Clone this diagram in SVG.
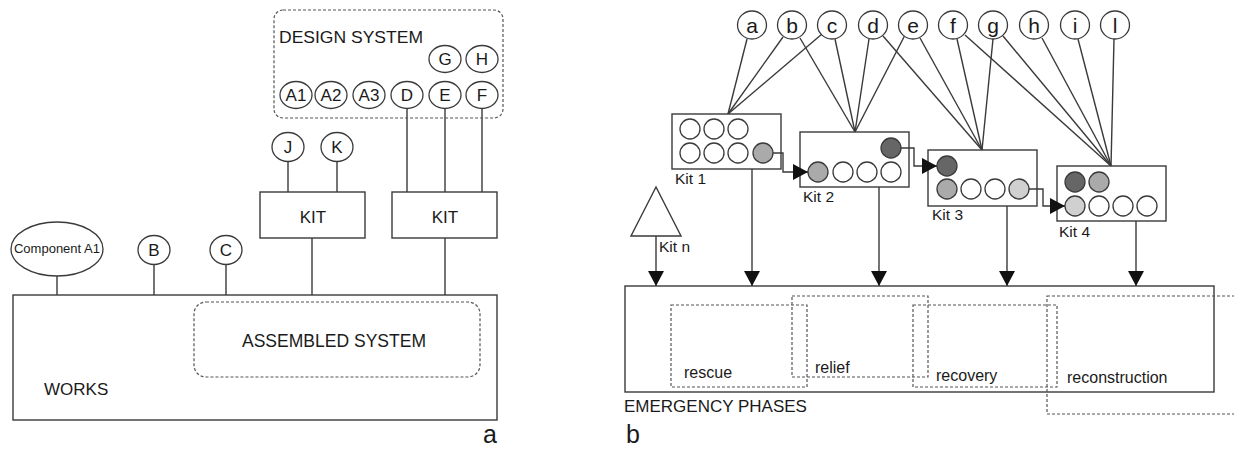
<svg xmlns="http://www.w3.org/2000/svg" width="1234" height="450" viewBox="0 0 1234 450">
<style>
text{font-family:"Liberation Sans",Arial,sans-serif;fill:#1a1a1a}
.ln{stroke:#3a3a3a;stroke-width:1.4;fill:none}
.bx{stroke:#3a3a3a;stroke-width:1.4;fill:#fff}
.ds{stroke:#555;stroke-width:1.2;fill:none;stroke-dasharray:3 2}
.c{stroke:#3a3a3a;stroke-width:1.3;fill:#fff}
.g{stroke:#3a3a3a;stroke-width:1.3;fill:#aaa}
.dk{stroke:#3a3a3a;stroke-width:1.3;fill:#666}
.lt{stroke:#3a3a3a;stroke-width:1.3;fill:#d0d0d0}
.cl{font-size:17px;text-anchor:middle}
.rl{font-size:21px;text-anchor:middle}
.lb{font-size:17px}
.kl{font-size:15.5px}
.ph{font-size:16px}
</style>
<defs>
<marker id="ah" markerUnits="userSpaceOnUse" markerWidth="16" markerHeight="16" refX="15" refY="8" orient="auto">
<path d="M0,0 L15,8 L0,16 z" fill="#111"/>
</marker>
</defs>

<!-- ===== Panel a ===== -->
<g id="connectors-a">
<line class="ln" x1="57" y1="276" x2="57" y2="295"/>
<line class="ln" x1="154" y1="265" x2="154" y2="295"/>
<line class="ln" x1="226" y1="265" x2="226" y2="295"/>
<line class="ln" x1="312" y1="238" x2="312" y2="295"/>
<line class="ln" x1="445" y1="238" x2="445" y2="295"/>
<line class="ln" x1="288" y1="161" x2="288" y2="192"/>
<line class="ln" x1="337" y1="161" x2="337" y2="192"/>
<line class="ln" x1="407" y1="108.5" x2="407" y2="192"/>
<line class="ln" x1="445" y1="108.5" x2="445" y2="192"/>
<line class="ln" x1="482" y1="108.5" x2="482" y2="192"/>
</g>

<g id="design-system">
<rect class="ds" x="274" y="10" width="229" height="108" rx="9"/>
<text class="lb" x="279" y="43" textLength="144" lengthAdjust="spacingAndGlyphs">DESIGN SYSTEM</text>
</g>
<g id="node-A1"><ellipse class="c" cx="296" cy="95" rx="16" ry="13.5"/><text class="cl" x="296" y="101">A1</text></g>
<g id="node-A2"><ellipse class="c" cx="331" cy="95" rx="16" ry="13.5"/><text class="cl" x="331" y="101">A2</text></g>
<g id="node-A3"><ellipse class="c" cx="369" cy="95" rx="16" ry="13.5"/><text class="cl" x="369" y="101">A3</text></g>
<g id="node-D"><ellipse class="c" cx="407" cy="95" rx="16" ry="13.5"/><text class="cl" x="407" y="101">D</text></g>
<g id="node-E"><ellipse class="c" cx="445" cy="95" rx="16" ry="13.5"/><text class="cl" x="445" y="101">E</text></g>
<g id="node-F"><ellipse class="c" cx="482" cy="95" rx="16" ry="13.5"/><text class="cl" x="482" y="101">F</text></g>
<g id="node-G"><ellipse class="c" cx="445" cy="59" rx="16" ry="13.5"/><text class="cl" x="445" y="65">G</text></g>
<g id="node-H"><ellipse class="c" cx="482" cy="59" rx="16" ry="13.5"/><text class="cl" x="482" y="65">H</text></g>
<g id="node-J"><ellipse class="c" cx="288" cy="147" rx="16" ry="14.5"/><text class="cl" x="288" y="153">J</text></g>
<g id="node-K"><ellipse class="c" cx="337" cy="147" rx="16" ry="14.5"/><text class="cl" x="337" y="153">K</text></g>
<g id="kit-a1"><rect class="bx" x="260" y="192" width="105" height="46"/><text class="lb" x="313" y="223" text-anchor="middle">KIT</text></g>
<g id="kit-a2"><rect class="bx" x="392" y="192" width="105" height="46"/><text class="lb" x="445" y="223" text-anchor="middle">KIT</text></g>
<g id="node-componentA1"><ellipse class="c" cx="57" cy="249" rx="46" ry="27"/><text x="57" y="253" font-size="13" text-anchor="middle">Component A1</text></g>
<g id="node-B"><ellipse class="c" cx="154" cy="250" rx="16" ry="14.5"/><text class="cl" x="154" y="256">B</text></g>
<g id="node-C"><ellipse class="c" cx="226" cy="250" rx="16" ry="14.5"/><text class="cl" x="226" y="256">C</text></g>
<g id="works">
<rect class="bx" x="13" y="295" width="484" height="125"/>
<text class="lb" x="44" y="395">WORKS</text>
</g>
<g id="assembled-system">
<rect class="ds" x="194" y="302" width="286" height="75" rx="12"/>
<text x="242" y="347" font-size="17.5" textLength="184" lengthAdjust="spacingAndGlyphs">ASSEMBLED SYSTEM</text>
</g>
<text x="483" y="443" font-size="25">a</text>

<!-- ===== Panel b ===== -->
<g id="connectors-b">
<line class="ln" x1="747" y1="39" x2="728" y2="114"/>
<line class="ln" x1="783" y1="37" x2="728" y2="114"/>
<line class="ln" x1="822" y1="34" x2="728" y2="114"/>
<line class="ln" x1="800" y1="38" x2="855" y2="132"/>
<line class="ln" x1="835" y1="39" x2="855" y2="132"/>
<line class="ln" x1="869" y1="39" x2="855" y2="132"/>
<line class="ln" x1="905" y1="35" x2="855" y2="132"/>
<line class="ln" x1="883" y1="36" x2="982" y2="150"/>
<line class="ln" x1="920" y1="38" x2="982" y2="150"/>
<line class="ln" x1="957" y1="39" x2="982" y2="150"/>
<line class="ln" x1="993" y1="39" x2="982" y2="150"/>
<line class="ln" x1="965" y1="35" x2="1111" y2="166"/>
<line class="ln" x1="1003" y1="36" x2="1111" y2="166"/>
<line class="ln" x1="1042" y1="38" x2="1111" y2="166"/>
<line class="ln" x1="1078" y1="39" x2="1111" y2="166"/>
<line class="ln" x1="1114" y1="39" x2="1111" y2="166"/>
<line class="ln" x1="656" y1="236" x2="656" y2="286" marker-end="url(#ah)"/>
<line class="ln" x1="752" y1="169" x2="752" y2="286" marker-end="url(#ah)"/>
<line class="ln" x1="879" y1="187" x2="879" y2="286" marker-end="url(#ah)"/>
<line class="ln" x1="1007" y1="206" x2="1007" y2="286" marker-end="url(#ah)"/>
<line class="ln" x1="1136" y1="221" x2="1136" y2="286" marker-end="url(#ah)"/>
</g>

<g id="node-a"><ellipse class="c" cx="752" cy="25" rx="14.5" ry="14"/><text class="rl" x="752" y="32.5">a</text></g>
<g id="node-b"><ellipse class="c" cx="792" cy="25" rx="14.5" ry="14"/><text class="rl" x="792" y="32.5">b</text></g>
<g id="node-c"><ellipse class="c" cx="832" cy="25" rx="14.5" ry="14"/><text class="rl" x="832" y="32.5">c</text></g>
<g id="node-d"><ellipse class="c" cx="873" cy="25" rx="14.5" ry="14"/><text class="rl" x="873" y="32.5">d</text></g>
<g id="node-e"><ellipse class="c" cx="913" cy="25" rx="14.5" ry="14"/><text class="rl" x="913" y="32.5">e</text></g>
<g id="node-f"><ellipse class="c" cx="953" cy="25" rx="14.5" ry="14"/><text class="rl" x="953" y="32.5">f</text></g>
<g id="node-g"><ellipse class="c" cx="993" cy="25" rx="14.5" ry="14"/><text class="rl" x="993" y="32.5">g</text></g>
<g id="node-h"><ellipse class="c" cx="1034" cy="25" rx="14.5" ry="14"/><text class="rl" x="1034" y="32.5">h</text></g>
<g id="node-i"><ellipse class="c" cx="1075" cy="25" rx="14.5" ry="14"/><text class="rl" x="1075" y="32.5">i</text></g>
<g id="node-l"><ellipse class="c" cx="1115" cy="25" rx="14.5" ry="14"/><text class="rl" x="1115" y="32.5">l</text></g>

<g id="kit-1">
<rect class="bx" x="672" y="114" width="109" height="55"/>
<circle class="c" cx="690" cy="129" r="10"/><circle class="c" cx="714" cy="129" r="10"/><circle class="c" cx="738" cy="129" r="10"/>
<circle class="c" cx="690" cy="153" r="10"/><circle class="c" cx="714" cy="153" r="10"/><circle class="c" cx="738" cy="153" r="10"/><circle class="g" cx="763" cy="153" r="10"/>
<text class="kl" x="675" y="184">Kit 1</text>
</g>
<g id="kit-2">
<rect class="bx" x="800" y="132" width="109" height="55"/>
<circle class="dk" cx="891" cy="148" r="10"/>
<circle class="g" cx="818" cy="172" r="10"/><circle class="c" cx="843" cy="172" r="10"/><circle class="c" cx="867" cy="172" r="10"/><circle class="c" cx="891" cy="172" r="10"/>
<text class="kl" x="803" y="202">Kit 2</text>
</g>
<g id="kit-3">
<rect class="bx" x="928" y="150" width="109" height="56"/>
<circle class="dk" cx="947" cy="166" r="10"/>
<circle class="g" cx="947" cy="189" r="10"/><circle class="c" cx="971" cy="189" r="10"/><circle class="c" cx="995" cy="189" r="10"/><circle class="lt" cx="1019" cy="189" r="10"/>
<text class="kl" x="932" y="220">Kit 3</text>
</g>
<g id="kit-4">
<rect class="bx" x="1057" y="166" width="109" height="55"/>
<circle class="dk" cx="1075" cy="182" r="10"/><circle class="g" cx="1099" cy="182" r="10"/>
<circle class="lt" cx="1075" cy="206" r="10"/><circle class="c" cx="1099" cy="206" r="10"/><circle class="c" cx="1123" cy="206" r="10"/><circle class="c" cx="1147" cy="206" r="10"/>
<text class="kl" x="1059" y="237">Kit 4</text>
</g>
<g id="kit-n">
<polygon class="bx" points="656,187 631,236 681,236"/>
<text class="kl" x="659" y="252">Kit n</text>
</g>

<g id="kit-links">
<polyline class="ln" points="773,153 783,153 783,172 808,172" marker-end="url(#ah)"/>
<polyline class="ln" points="901,148 914,148 914,166 937,166" marker-end="url(#ah)"/>
<polyline class="ln" points="1029,189 1043,189 1043,206 1065,206" marker-end="url(#ah)"/>
</g>

<g id="emergency-phases">
<rect class="bx" x="625" y="286" width="589" height="106"/>
<text class="lb" x="624" y="412">EMERGENCY PHASES</text>
</g>
<g id="phase-rescue"><rect class="ds" x="671" y="305" width="136" height="82"/><text class="ph" x="684" y="378">rescue</text></g>
<g id="phase-relief"><rect class="ds" x="792" y="296" width="136" height="81"/><text class="ph" x="815" y="373">relief</text></g>
<g id="phase-recovery"><rect class="ds" x="913" y="305" width="144" height="82"/><text class="ph" x="936" y="381">recovery</text></g>
<g id="phase-reconstruction"><rect class="ds" x="1047" y="296" width="200" height="118"/><text class="ph" x="1067" y="383">reconstruction</text></g>
<text x="626" y="443" font-size="25">b</text>
</svg>
